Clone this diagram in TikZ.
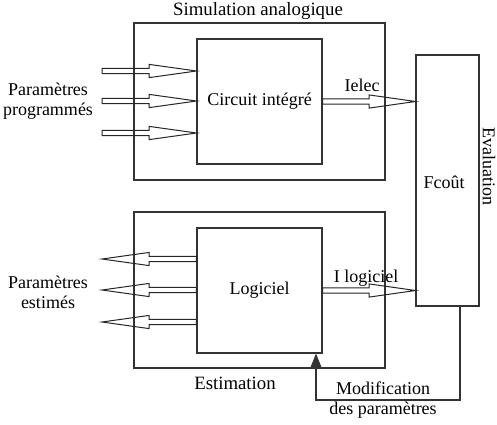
\documentclass[tikz,border=0pt]{standalone}
\usepackage{fontspec}
\setmainfont{Liberation Serif}
\usetikzlibrary{arrows.meta,calc,positioning}

% hollow block arrow, head is half of the length
\newcommand{\bigarrow}[2]{%
  \draw[hollow] let \p1=(#1), \p2=(#2), \n1={(\x2-\x1)/2} in
    (\x1,\y1+1.35pt) -- (\x1+\n1,\y1+1.35pt) -- (\x1+\n1,\y1+3.3pt) -- (\x2,\y2)
    -- (\x1+\n1,\y1-3.3pt) -- (\x1+\n1,\y1-1.35pt) -- (\x1,\y1-1.35pt) -- cycle;}

\begin{document}
\begin{tikzpicture}
[x=0.5pt,y=-0.5pt,
block/.style={draw=black!80,line width=0.55pt,inner sep=0pt},
hollow/.style={draw=black!85,line width=0.5pt,line join=miter},
lbl/.style={font=\fontsize{9}{10}\selectfont,inner sep=0pt,align=center},
title/.style={lbl,font=\fontsize{9.4}{10}\selectfont}]
\useasboundingbox (0,0) rectangle (497,424);

% boxes
\node[block,minimum width=125.5pt,minimum height=78.5pt] (sim) at (259.5,101.5) {};
\node[block,minimum width=62.5pt,minimum height=62.5pt]  (circ) at (259.5,101.5) {};
\node[block,minimum width=125.5pt,minimum height=78pt]   (est) at (259.5,290) {};
\node[block,minimum width=62.5pt,minimum height=62.5pt]  (log) at (259.5,290.5) {};
\node[block,minimum width=31.5pt,minimum height=125.5pt] (fcout) at (447.5,180.5) {};

% texts
\node[title] (simtxt) at (258,11) {Simulation analogique};
\node[lbl] at (circ.center) {Circuit intégré};
\node[lbl] at (log.center) {Logiciel};
\node[title] (esttxt) at (235,383) {Estimation};
\node[lbl] at (444,182) {Fcoût};
\node[lbl,rotate=-90] (evtxt) at (489,166) {Evaluation};
\node[lbl] (ielec) at (362,85) {Ielec};
\node[lbl] (ilog) at (366,278) {I logiciel};
\node[lbl] (ppro) at (48,101) {Paramètres\\programmés};
\node[lbl] (pest) at (48,292) {Paramètres\\estimés};
\node[lbl] (modif) at (383,400) {Modification\\des paramètres};

% free ends of the parameter arrows
\coordinate (p1) at (102,71);
\coordinate (p2) at (102,101);
\coordinate (p3) at (102,133);
\coordinate (q1) at (102,259);
\coordinate (q2) at (102,290);
\coordinate (q3) at (102,322);

\foreach \i in {1,2,3} {
  \bigarrow{p\i}{p\i -| circ.west}
  \bigarrow{q\i -| log.west}{q\i}
}
\bigarrow{circ.east}{circ.east -| fcout.west}
\bigarrow{log.east}{log.east -| fcout.west}

% feedback
\coordinate (fb1) at (460,400);
\coordinate (fb2) at (316,400);
\draw[draw=black!80,line width=0.55pt,-{Triangle[length=7pt,width=5.5pt]}]
  (fb1 |- fcout.south) -- (fb1) -- (fb2) -- (fb2 |- log.south);
\end{tikzpicture}
\end{document}
